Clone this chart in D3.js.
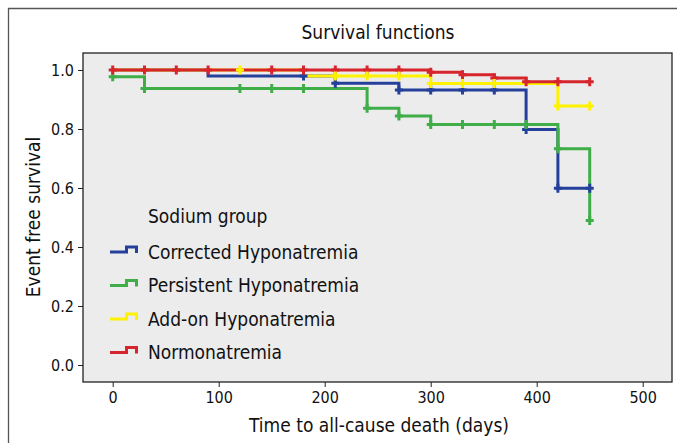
<!DOCTYPE html>
<html>
<head>
<meta charset="utf-8">
<script src="https://cdn.jsdelivr.net/npm/d3@7"></script>
<style>
  body { margin: 0; background: #fff; }
  svg text { font-family: "Liberation Sans Narrow", "DejaVu Sans Condensed", sans-serif; fill: #111; }
</style>
</head>
<body>
<div id="chart"></div>
<script>
// Kaplan-Meier data: [time in days, survival after that time]
var correctedSteps = [[0, 1.0], [90, 0.98], [210, 0.955], [270, 0.932], [390, 0.798], [420, 0.599]];
var correctedCensor = [180, 210, 270, 300, 330, 360, 390, 420, 450];

var persistentSteps = [[0, 0.977], [30, 0.937], [240, 0.870], [270, 0.844], [300, 0.815], [420, 0.733], [450, 0.49]];
var persistentCensor = [0, 30, 120, 150, 180, 240, 270, 300, 330, 360, 390, 420, 450];

var addonSteps = [[0, 1.0], [180, 0.98], [300, 0.954], [420, 0.878]];
var addonCensor = [120, 210, 240, 270, 300, 330, 360, 420, 450];

var normoSteps = [[0, 1.0], [300, 0.992], [330, 0.984], [360, 0.973], [390, 0.96]];
var normoCensor = [0, 30, 60, 90, 150, 180, 210, 240, 270, 300, 330, 360, 390, 420, 450];

var endTime = 450;

var groupNames = ["Corrected Hyponatremia", "Persistent Hyponatremia", "Add-on Hyponatremia", "Normonatremia"];
var groupColors = ["#24409a", "#3fae49", "#fff200", "#d7252d"];

var xTicks = [0, 100, 200, 300, 400, 500];
var yTicks = [0, 0.2, 0.4, 0.6, 0.8, 1.0];

var w = 677, h = 443;
// plot box
var box = {left: 83, right: 672, top: 53, bottom: 382};

var svg = d3.select("#chart").append("svg")
    .attr("width", w)
    .attr("height", h);

// outer frame (only top and left are visible in the crop)
svg.append("path")
    .attr("d", "M8.5," + h + "V8.5H" + w)
    .attr("fill", "none")
    .attr("stroke", "#555")
    .attr("stroke-width", 1.3);

svg.append("rect")
    .attr("x", box.left).attr("y", box.top)
    .attr("width", box.right - box.left).attr("height", box.bottom - box.top)
    .attr("fill", "#ececec")
    .attr("stroke", "#222")
    .attr("stroke-width", 1.3);

var x = d3.scaleLinear().domain([0, 500]).range([112.7, 642.7]);
var y = d3.scaleLinear().domain([0, 1]).range([365, 70]);

// axes
var xAxis = svg.append("g")
    .attr("transform", "translate(0," + box.bottom + ")")
    .call(d3.axisBottom(x).tickValues(xTicks).tickFormat(d3.format("d")).tickSize(5).tickPadding(5));
var yAxis = svg.append("g")
    .attr("transform", "translate(" + box.left + ",0)")
    .call(d3.axisLeft(y).tickValues(yTicks).tickFormat(d3.format(".1f")).tickSize(5).tickPadding(4));
[xAxis, yAxis].forEach(function(g) {
    g.select(".domain").remove();
    g.selectAll(".tick line").attr("stroke", "#222");
    g.selectAll(".tick text").style("font-size", "16px").attr("fill", "#111");
});

// step path generator
var stepLine = d3.line()
    .x(function(d) { return x(d[0]); })
    .y(function(d) { return y(d[1]); })
    .curve(d3.curveStepAfter);

var series = [
    {steps: correctedSteps, censor: correctedCensor},
    {steps: persistentSteps, censor: persistentCensor},
    {steps: addonSteps, censor: addonCensor},
    {steps: normoSteps, censor: normoCensor}
];

function levelAt(steps, t) {
    var v = steps[0][1];
    steps.forEach(function(s) { if (s[0] <= t) v = s[1]; });
    return v;
}

// lines first
series.forEach(function(s, i) {
    var pts = s.steps.slice();
    if (pts[pts.length - 1][0] < endTime) pts.push([endTime, pts[pts.length - 1][1]]);
    svg.append("path")
        .datum(pts)
        .attr("d", stepLine)
        .attr("fill", "none")
        .attr("stroke", groupColors[i])
        .attr("stroke-width", 3);
});

// censor marks on top (yellow last so its mark shows on the red line)
[0, 1, 3, 2].forEach(function(i) {
    var s = series[i];
    svg.append("g").selectAll("path")
        .data(s.censor)
        .enter()
        .append("path")
        .attr("d", function(t) {
            var cx = x(t), cy = y(levelAt(s.steps, t));
            return "M" + (cx - 4) + "," + cy + "H" + (cx + 4) + "M" + cx + "," + (cy - 4.5) + "V" + (cy + 4.5);
        })
        .attr("stroke", groupColors[i])
        .attr("stroke-width", 3)
        .attr("fill", "none");
});

// titles
svg.append("text")
    .attr("x", 378).attr("y", 39)
    .attr("text-anchor", "middle")
    .style("font-size", "19px")
    .text("Survival functions");

svg.append("text")
    .attr("x", 379).attr("y", 432)
    .attr("text-anchor", "middle")
    .style("font-size", "19px")
    .text("Time to all-cause death (days)");

svg.append("text")
    .attr("transform", "translate(40,217) rotate(-90)")
    .attr("text-anchor", "middle")
    .style("font-size", "19px")
    .text("Event free survival");

// legend
var legend = svg.append("g");
legend.append("text")
    .attr("x", 148).attr("y", 223)
    .style("font-size", "19px")
    .text("Sodium group");

var items = legend.selectAll("g.item")
    .data(groupNames)
    .enter()
    .append("g")
    .attr("class", "item")
    .attr("transform", function(d, i) { return "translate(0," + (252 + i * 33.5) + ")"; });

items.append("path")
    .attr("d", "M110,0H126.5V-5H136.5V1")
    .attr("fill", "none")
    .attr("stroke-width", 3)
    .attr("stroke", function(d, i) { return groupColors[i]; });

items.append("text")
    .attr("x", 148).attr("y", 6.5)
    .style("font-size", "19px")
    .text(function(d) { return d; });
</script>
</body>
</html>
